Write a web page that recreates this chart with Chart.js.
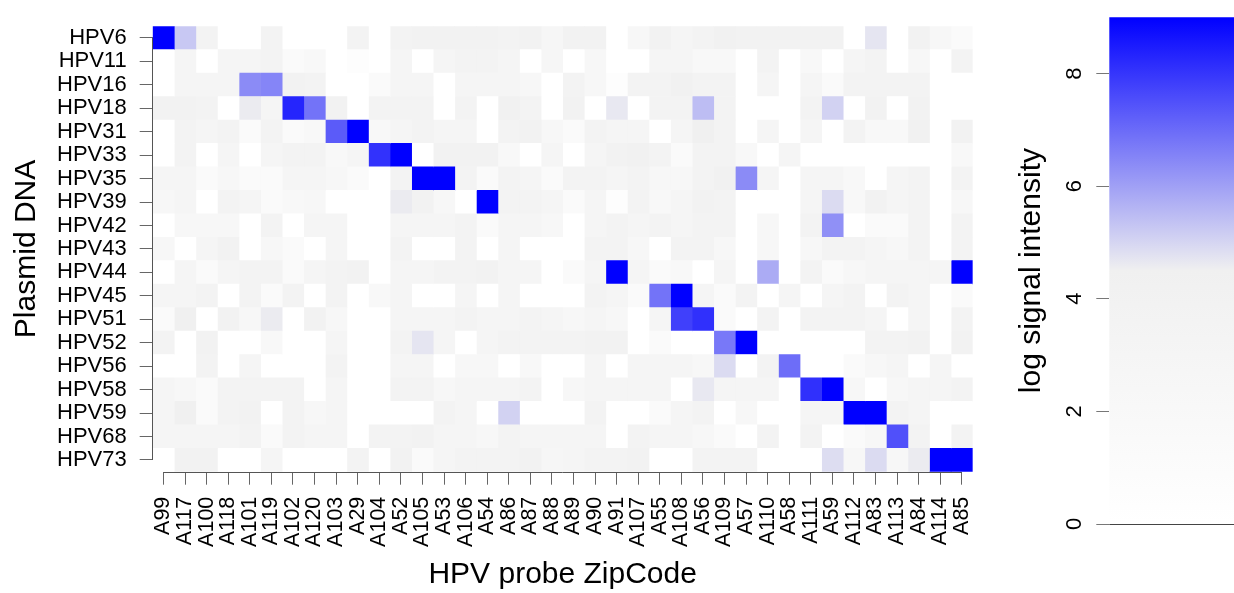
<!DOCTYPE html>
<html><head><meta charset="utf-8">
<script src="https://cdn.jsdelivr.net/npm/chart.js@4/dist/chart.umd.min.js"></script>
<style>
html,body{margin:0;padding:0;background:#fff;width:1234px;height:593px;overflow:hidden}
#main{position:absolute;left:0;top:0}
#bar{position:absolute;left:1000px;top:0}
</style></head><body>
<canvas id="main" width="1000" height="593"></canvas>
<canvas id="bar" width="234" height="593"></canvas>
<script>
const probes = ["A99","A117","A100","A118","A101","A119","A102","A120","A103","A29","A104","A52","A105","A53","A106","A54","A86","A87","A88","A89","A90","A91","A107","A55","A108","A56","A109","A57","A110","A58","A111","A59","A112","A83","A113","A84","A114","A85"];
const plasmids = ["HPV6","HPV11","HPV16","HPV18","HPV31","HPV33","HPV35","HPV39","HPV42","HPV43","HPV44","HPV45","HPV51","HPV52","HPV56","HPV58","HPV59","HPV68","HPV73"];

const HPV6  = [9,5.25,3.6,0,0,3.6,0,0,0,3.6,0,3.6,3.9,3.9,3.9,3.9,3.6,3.9,2.7,3.9,3.9,0,2.4,3.9,3.0,3.6,4.2,3.9,3.9,3.9,3.9,3.9,0,4.7,0,3.9,2.4,1.5];
const HPV11 = [0,3.0,0,3.0,3.0,3.6,1.5,2.1,0,0.7,0,3.0,0,3.0,3.6,3.6,3.0,0,2.7,0,2.4,0,0,3.0,3.0,2.1,2.1,0,3.6,0,2.1,0,3.0,3.6,0,2.4,0,3.6];
const HPV16 = [0,3.0,3.0,3.0,6.4,6.5,3.9,3.6,0,0,1.5,3.0,3.0,0,3.0,3.0,3.0,2.4,0,3.6,2.4,0.7,3.6,3.6,4.2,3.6,3.6,0,3.0,0,3.0,1.5,3.6,3.6,3.6,3.6,0,0];
const HPV18 = [3.9,3.9,3.6,0,4.6,3.0,8.3,6.85,3.9,0,3.6,3.6,3.6,0,3.6,0,4.2,3.6,0,3.9,0,4.65,0,3.6,3.6,5.45,3.6,0,0,0,3.6,5.06,0,3.9,0,3.9,0,0];
const HPV31 = [0,3.6,3.0,3.6,1.5,3.6,1.5,2.1,7.3,9,2.1,3.0,3.6,3.0,3.0,0,3.6,3.9,2.4,1.5,3.6,3.0,3.0,0,3.0,4.5,3.6,0,3.0,0,3.0,0,3.6,2.1,2.1,4.2,0,3.9];
const HPV33 = [0,3.6,0,3.0,0,3.0,3.6,3.6,2.1,3.0,8.06,9,0,3.9,3.9,3.9,2.1,0,3.0,0,3.0,3.9,4.2,3.6,1.5,3.6,3.6,2.1,0,3.0,0,0,0,0,0,0,0,2.1];
const HPV35 = [3.0,3.0,1.5,2.4,1.5,1.5,3.0,3.0,2.4,1.5,0,3.6,9,9,3.6,1.5,3.6,3.0,1.5,3.6,3.6,3.0,3.6,2.4,2.4,3.6,4.2,6.4,3.0,0,3.0,3.0,2.1,0,3.0,3.6,0,3.6];
const HPV39 = [2.4,3.0,0,3.6,3.0,1.5,2.1,2.4,0,0,0,4.6,3.9,2.4,0,9,3.6,3.6,3.0,1.5,3.0,0.7,3.6,2.1,3.0,3.9,3.6,0,0,0,3.0,4.9,2.1,3.9,3.0,3.6,0,2.4];
const HPV42 = [0,2.4,2.4,2.4,0,3.6,0,3.0,3.0,0,0,3.0,3.0,3.0,3.6,1.5,3.0,3.0,2.4,0,3.0,3.6,3.0,3.6,3.0,3.6,3.6,0,2.4,0,3.6,6.3,0,1.5,1.5,3.6,0,3.6];
const HPV43 = [2.4,0,3.0,3.9,0,2.4,1.5,0,3.0,0,0,3.6,0,0,3.6,0,3.0,0,0,0,3.6,3.6,2.4,0,3.6,3.6,2.4,0,2.4,0,2.4,3.6,3.6,3.0,2.4,3.6,0,3.6];
const HPV44 = [0,3.0,1.5,3.0,3.6,3.6,1.5,3.0,3.6,3.9,0,3.0,3.0,3.6,3.6,3.9,3.0,3.0,0,1.5,3.0,9,3.0,1.5,2.1,0,3.0,0,5.8,0,3.6,1.5,2.4,3.0,3.0,3.0,3.0,9];
const HPV45 = [3.0,3.0,3.6,0,3.6,1.5,3.6,0,3.6,0,2.1,3.0,0,0,3.0,0,3.0,0,0,0,3.6,3.0,1.5,6.85,9,3.0,1.5,3.6,0,3.0,0,3.0,3.6,0,3.6,3.0,0,1.5];
const HPV51 = [1.5,4.5,0,3.9,2.4,4.6,0,3.9,2.4,0,0,3.0,3.0,3.0,3.6,3.0,3.0,3.6,3.0,2.4,3.0,2.4,0,3.0,7.8,8.1,1.5,0,3.6,0,3.6,3.6,3.6,3.0,0,3.0,0,3.6];
const HPV52 = [3.6,0,3.9,0,0,2.1,0,0,3.0,0,0,3.6,4.7,3.0,0,3.0,3.6,3.6,3.6,3.6,3.9,3.9,0,1.5,0,0,6.75,9,0,0,0,0,0,3.6,3.6,3.9,0,3.9];
const HPV56 = [0,0,3.6,0,3.0,0,0,0,3.6,0,0,3.0,3.0,0,2.4,2.4,0,2.1,0,0,3.0,0,3.0,3.0,3.0,2.4,4.9,0,3.6,6.95,0,0,1.5,2.4,3.0,0,3.0,0];
const HPV58 = [3.0,2.4,1.5,3.6,3.6,3.6,3.6,0,3.0,0,0,3.6,3.6,2.4,3.0,3.0,3.0,3.6,0,2.4,3.0,3.0,3.0,3.0,0,4.65,3.0,3.0,3.0,0,8.1,9,2.4,0,2.4,3.0,3.0,3.6];
const HPV59 = [3.0,4.5,1.5,3.6,3.9,0,3.6,2.4,3.0,0,0,0,0,3.6,3.0,0,5.06,0,0,0,3.6,0,0,1.5,3.0,3.6,0,2.4,0,0,3.0,3.0,9,9,3.6,3.0,0,0];
const HPV68 = [3.0,3.0,3.0,3.0,3.6,1.5,3.6,3.0,3.0,0,3.6,3.6,3.9,3.0,3.0,2.4,3.6,3.0,3.0,3.0,3.0,0,3.6,3.0,3.0,2.4,1.5,0,3.6,0,3.6,0,1.5,2.4,7.5,3.6,0,3.6];
const HPV73 = [0,3.9,3.9,0,0,3.0,0,0,0,3.6,0,3.9,1.5,3.0,3.6,3.6,3.6,3.9,2.7,3.0,3.6,3.6,3.9,0,0,3.6,3.6,3.6,0,0,0,4.85,2.4,4.9,2.4,4.6,9,9];

const intensity = [HPV6,HPV11,HPV16,HPV18,HPV31,HPV33,HPV35,HPV39,HPV42,HPV43,HPV44,HPV45,HPV51,HPV52,HPV56,HPV58,HPV59,HPV68,HPV73];
const scaleTicks = [0,2,4,6,8];
const scaleMin = 0, scaleMid = 4.5, scaleMax = 9;

const FONT = "'Liberation Sans', Arial, Helvetica, sans-serif";

function colorFor(v){
  if (v <= scaleMid){
    const g = Math.round(255 - 15 * (v - scaleMin) / (scaleMid - scaleMin));
    return `rgb(${g},${g},${g})`;
  }
  const t = Math.min(1, (v - scaleMid) / (scaleMax - scaleMid));
  const c = Math.round(240 * (1 - t));
  const b = Math.round(240 + 15 * t);
  return `rgb(${c},${c},${b})`;
}

const axisLines = {
  id: 'axisLines',
  afterDraw(chart){
    const {ctx, chartArea, scales:{x, y}} = chart;
    ctx.save();
    ctx.strokeStyle = '#555';
    ctx.lineWidth = 1;
    ctx.beginPath();
    const lx = Math.round(chartArea.left) - 0.5;
    ctx.moveTo(lx, y.getPixelForTick(0));
    ctx.lineTo(lx, y.getPixelForTick(plasmids.length - 1));
    const by = Math.round(chartArea.bottom) + 0.5;
    ctx.moveTo(x.getPixelForValue(0.5), by);
    ctx.lineTo(x.getPixelForValue(probes.length - 0.5), by);
    ctx.stroke();
    ctx.restore();
  }
};

new Chart(document.getElementById('main'), {
  type: 'bar',
  data: {
    labels: plasmids,
    datasets: probes.map((p, j) => ({
      label: p,
      data: plasmids.map(() => 1),
      backgroundColor: intensity.map(row => colorFor(row[j])),
      borderWidth: 0,
      barPercentage: 1,
      categoryPercentage: 1,
      stack: 'cells'
    }))
  },
  options: {
    indexAxis: 'y',
    responsive: false,
    animation: false,
    devicePixelRatio: 1,
    layout: {padding: {top: 14.3, right: 24.3, bottom: 0, left: 0}},
    plugins: {legend: {display: false}, tooltip: {enabled: false}},
    scales: {
      y: {
        type: 'category', stacked: true, offset: true,
        grid: {offset: false, drawOnChartArea: false, drawTicks: true, tickLength: 13, color: '#666', lineWidth: 1},
        border: {display: false},
        ticks: {autoSkip: false, color: '#000', font: {family: FONT, size: 22}, padding: 13},
        title: {display: true, text: 'Plasmid DNA', color: '#000', font: {family: FONT, size: 30}, padding: {top: 8.6, bottom: 0}},
        afterFit(s){ s.width = 152.7; }
      },
      x: {
        type: 'linear', stacked: true, min: 0, max: probes.length,
        afterBuildTicks(s){ s.ticks = probes.map((p, i) => ({value: i + 0.5})); },
        ticks: {autoSkip: false, minRotation: 90, maxRotation: 90, color: '#000', font: {family: FONT, size: 21.5}, padding: 12,
                callback: (v) => probes[Math.floor(v)]},
        grid: {drawOnChartArea: false, drawTicks: true, tickLength: 13, color: '#666', lineWidth: 1},
        border: {display: false},
        title: {display: true, text: 'HPV probe ZipCode', color: '#000', font: {family: FONT, size: 30}, padding: {top: 0, bottom: 0}},
        afterFit(s){ s.height = 121.3; }
      }
    }
  },
  plugins: [axisLines]
});

const barDecor = {
  id: 'barDecor',
  afterDraw(chart){
    const {ctx, chartArea, scales:{y}} = chart;
    ctx.save();
    ctx.fillStyle = '#000';
    ctx.font = `22px ${FONT}`;
    ctx.textAlign = 'center';
    ctx.textBaseline = 'alphabetic';
    scaleTicks.forEach(v => {
      ctx.save();
      ctx.translate(80.7, y.getPixelForValue(v));
      ctx.rotate(-Math.PI / 2);
      ctx.fillText(String(v), 0, 0);
      ctx.restore();
    });
    ctx.strokeStyle = '#444';
    ctx.lineWidth = 1;
    ctx.beginPath();
    const by = Math.round(chartArea.bottom) + 0.5;
    ctx.moveTo(chartArea.left, by);
    ctx.lineTo(chartArea.right, by);
    ctx.stroke();
    ctx.restore();
  }
};

new Chart(document.getElementById('bar'), {
  type: 'bar',
  data: {
    labels: [''],
    datasets: [{
      data: [scaleMax],
      borderWidth: 0,
      barPercentage: 1,
      categoryPercentage: 1,
      backgroundColor(ctx){
        const chart = ctx.chart;
        if (!chart.chartArea) return colorFor(scaleMax);
        const ys = chart.scales.y;
        const g = chart.ctx.createLinearGradient(0, ys.getPixelForValue(scaleMin), 0, ys.getPixelForValue(scaleMax));
        [scaleMin, scaleMid, scaleMax].forEach(v => g.addColorStop((v - scaleMin) / (scaleMax - scaleMin), colorFor(v)));
        return g;
      }
    }]
  },
  options: {
    responsive: false,
    animation: false,
    devicePixelRatio: 1,
    layout: {padding: {top: 14.3, right: 0, bottom: 69, left: 0}},
    plugins: {legend: {display: false}, tooltip: {enabled: false}},
    scales: {
      x: {display: false, offset: true},
      y: {
        min: scaleMin, max: scaleMax,
        afterBuildTicks(s){ s.ticks = scaleTicks.map(v => ({value: v})); },
        grid: {drawOnChartArea: false, drawTicks: true, tickLength: 13, color: '#777', lineWidth: 1},
        border: {display: false},
        ticks: {color: 'rgba(0,0,0,0)', font: {family: FONT, size: 22}, padding: 4},
        title: {display: true, text: 'log signal intensity', color: '#000', font: {family: FONT, size: 30}, padding: {top: 13.3, bottom: 0}},
        afterFit(s){ s.width = 109.3; }
      }
    }
  },
  plugins: [barDecor]
});
</script>
</body></html>
